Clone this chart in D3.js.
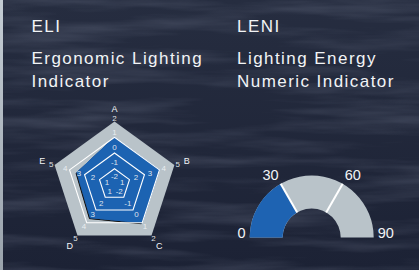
<!DOCTYPE html>
<html><head><meta charset="utf-8">
<script src="https://cdn.jsdelivr.net/npm/d3@7"></script>
<style>
html,body{margin:0;padding:0;background:#1f2638;}
svg{display:block;font-family:"Liberation Sans",Arial,Helvetica,sans-serif;}
</style></head>
<body><svg id="c" width="419" height="270"></svg>
<script>
// ---- data ----
const eliTitle = ["ELI", "Ergonomic Lighting", "Indicator"];
const leniTitle = ["LENI", "Lighting Energy", "Numeric Indicator"];
const axisNames = ["A", "B", "C", "D", "E"];
const axisTicksA = [-2, -1, 0, 1, 2];
const axisTicksB = [1, 2, 3, 4, 5];
const axisTicksC = [-2, -1, 0, 1, 2];
const axisTicksD = [1, 2, 3, 4, 5];
const axisTicksE = [1, 2, 3, 4, 5];
const eliValues = [1, 4, 1, 3.6, 3.5];
const leniTicks = [0, 30, 60, 90];
const leniValue = 30;

const axisTicks = [axisTicksA, axisTicksB, axisTicksC, axisTicksD, axisTicksE];

const svg = d3.select("#c");
const W = 419, H = 270;
const defs = svg.append("defs");

// background
const bg = defs.append("linearGradient").attr("id","bg").attr("x1",0).attr("y1",0).attr("x2",0).attr("y2",1);
bg.append("stop").attr("offset","0%").attr("stop-color","#262d40");
bg.append("stop").attr("offset","100%").attr("stop-color","#1c2235");
const tex = defs.append("filter").attr("id","tex").attr("x",0).attr("y",0).attr("width","100%").attr("height","100%");
tex.append("feTurbulence").attr("type","fractalNoise").attr("baseFrequency","0.006 0.06").attr("numOctaves",4).attr("seed",7);
tex.append("feColorMatrix").attr("type","matrix")
  .attr("values","0 0 0 0 0.5  0 0 0 0 0.55  0 0 0 0 0.7  1.0 0 0 0 -0.42");
const sh = defs.append("filter").attr("id","sh").attr("x","-20%").attr("y","-20%").attr("width","140%").attr("height","140%");
sh.append("feDropShadow").attr("dx",-1).attr("dy",1).attr("stdDeviation",0.6).attr("flood-color","#000").attr("flood-opacity",0.9);

svg.append("rect").attr("width",W).attr("height",H).attr("fill","url(#bg)");
svg.append("rect").attr("width",W).attr("height",H).attr("filter","url(#tex)").attr("opacity",0.4);
const edge = defs.append("linearGradient").attr("id","edge").attr("x1",0).attr("y1",0).attr("x2",0).attr("y2",1);
edge.append("stop").attr("offset","0%").attr("stop-color","#c4ccd3");
edge.append("stop").attr("offset","100%").attr("stop-color","#9aa3ac");
svg.append("rect").attr("x",0).attr("y",0).attr("width",3).attr("height",H).attr("fill","url(#edge)");

// titles
function title(lines, x){
  const g = svg.append("g").attr("fill","#f2f4f6").attr("font-size",17).attr("letter-spacing","1.45px");
  const ys = [32, 64, 87];
  lines.forEach((t,i)=> g.append("text").attr("x",x).attr("y",ys[i]).text(t));
}
title(eliTitle, 31.5);
title(leniTitle, 237);

// ---- radar ----
const cx = 114.5, cy = 184.5, R = 63;
const n = axisNames.length;
const ang = d3.scaleLinear().domain([0, n]).range([-Math.PI/2, 1.5*Math.PI]);
const level = d3.scaleLinear().domain([0, 4]).range([0, R]);
const labelR = d3.scaleLinear().domain([0, 4]).range([8, 66.5]);
const axScales = axisTicks.map(t => d3.scaleLinear().domain([t[0], t[t.length-1]]).range([0, R]));
const pt = (i, r) => [cx + r*Math.cos(ang(i)), cy + r*Math.sin(ang(i))];
const line = d3.line();
const ringPts = r => d3.range(n).map(i => pt(i, r));

const rg = svg.append("g");
rg.append("path").attr("d", line(ringPts(level(4))) + "Z").attr("fill","#b9c3c9");
rg.append("path")
  .attr("d", line(eliValues.map((v,i)=>pt(i, axScales[i](v)))) + "Z")
  .attr("fill","#1e63b2").attr("stroke","#1e63b2").attr("stroke-width",1)
  .attr("filter","url(#sh)");
[1,2,3].forEach(k=>{
  rg.append("path").attr("d", line(ringPts(level(k))) + "Z")
    .attr("fill","none").attr("stroke","#ffffff").attr("stroke-width",1.1);
});
// tick labels
axisTicks.forEach((ticks,i)=>{
  ticks.forEach((t,k)=>{
    const p = pt(i, labelR(k));
    rg.append("text").attr("x",p[0]).attr("y",p[1]).attr("dy","0.35em")
      .attr("text-anchor","middle").attr("font-size",8)
      .attr("fill","#eef2f5").attr("fill-opacity", 0.92)
      .text(t);
  });
  const p = pt(i, 76);
  rg.append("text").attr("x",p[0]).attr("y",p[1]).attr("dy","0.35em")
    .attr("text-anchor","middle").attr("font-size",9).attr("fill","#f2f4f6")
    .text(axisNames[i]);
});

// ---- gauge ----
const gx = 311.7, gy = 237.5, gR = 62, gr = 29;
const gScale = d3.scaleLinear().domain([leniTicks[0], leniTicks[leniTicks.length-1]]).range([-Math.PI/2, Math.PI/2]);
const arc = d3.arc().innerRadius(gr).outerRadius(gR);
const gg = svg.append("g").attr("transform",`translate(${gx},${gy})`);
gg.append("path").attr("d", arc({startAngle:gScale(leniTicks[0]), endAngle:gScale(leniTicks[leniTicks.length-1])})).attr("fill","#b9c3c9");
gg.append("path").attr("d", arc({startAngle:gScale(leniTicks[0]), endAngle:gScale(leniValue)})).attr("fill","#1e63b2");
leniTicks.slice(1,-1).forEach(t=>{
  const a = gScale(t);
  gg.append("line")
    .attr("x1", gr*Math.sin(a)).attr("y1", -gr*Math.cos(a))
    .attr("x2", gR*Math.sin(a)).attr("y2", -gR*Math.cos(a))
    .attr("stroke","#ffffff").attr("stroke-width",2);
});
leniTicks.forEach(t=>{
  const a = gScale(t);
  const r = gR + 4;
  gg.append("text")
    .attr("x", r*Math.sin(a)).attr("y", -r*Math.cos(a))
    .attr("text-anchor", a < 0 ? "end" : "start")
    .attr("font-size",14.5).attr("fill","#f2f4f6")
    .text(t);
});
</script></body></html>
